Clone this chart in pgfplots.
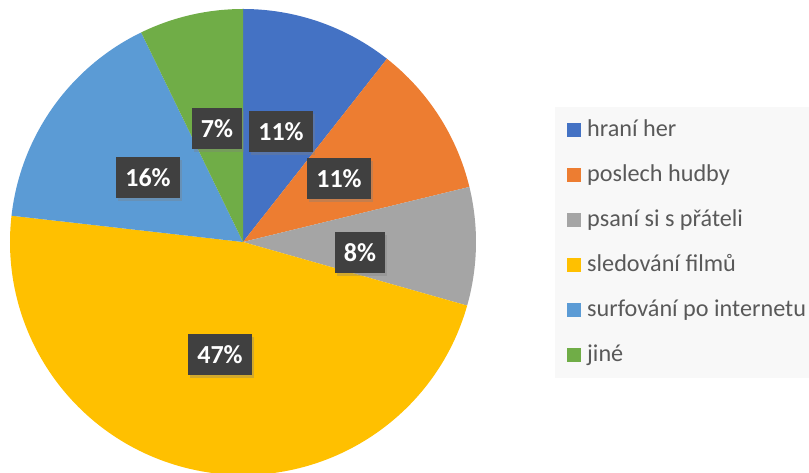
\documentclass[border=0pt]{standalone}
\usepackage{pgfplots}
\pgfplotsset{compat=1.18}
\usepackage{pgfplotstable}
\usepackage{fontspec}
\setmainfont{Carlito}
\usetikzlibrary{shadows}
\definecolor{c1}{HTML}{4472C4}
\definecolor{c2}{HTML}{ED7D31}
\definecolor{c3}{HTML}{A5A5A5}
\definecolor{c4}{HTML}{FFC000}
\definecolor{c5}{HTML}{5B9BD5}
\definecolor{c6}{HTML}{70AD47}
\definecolor{legbg}{HTML}{F8F8F8}
\definecolor{legtxt}{HTML}{595959}
\definecolor{lblbg}{HTML}{404040}
% value = share in percent; lx, ly = label position (px, y up)
\pgfplotstableread{
value col lx ly
10.6 c1 281 341
10.6 c2 339 294
8.2  c3 360 220
47.4 c4 220 118
16.0 c5 148 295
7.2  c6 217 344
}\piedata
\begin{document}
\begin{tikzpicture}
\useasboundingbox (0,0) rectangle (809pt,473pt);
\begin{axis}[
  width=809pt, height=473pt, scale only axis,
  xmin=0, xmax=809, ymin=0, ymax=473,
  hide axis, clip=false,
]
\def\cum{0}
\pgfplotsforeachungrouped \i in {0,...,5}{%
  \pgfplotstablegetelem{\i}{value}\of\piedata \let\v\pgfplotsretval
  \pgfplotstablegetelem{\i}{col}\of\piedata \let\c\pgfplotsretval
  \pgfmathsetmacro\a{90-3.6*\cum}%
  \pgfmathsetmacro\b{90-3.6*(\cum+\v)}%
  \pgfmathsetmacro\sx{243+233*cos(\a)}%
  \pgfmathsetmacro\sy{231+233*sin(\a)}%
  \edef\temp{\noexpand\fill[\c] (axis cs:243,231) -- (axis cs:\sx,\sy) arc[start angle=\a, end angle=\b, radius=233pt] -- cycle;}%
  \temp
  \pgfmathsetmacro\cum{\cum+\v}%
}
\pgfplotsforeachungrouped \i in {0,...,5}{%
  \pgfplotstablegetelem{\i}{value}\of\piedata \let\v\pgfplotsretval
  \pgfplotstablegetelem{\i}{lx}\of\piedata \let\lx\pgfplotsretval
  \pgfplotstablegetelem{\i}{ly}\of\piedata \let\ly\pgfplotsretval
  \pgfmathtruncatemacro\p{round(\v)}%
  \edef\temp{\noexpand\node[fill=lblbg, text=white, font=\noexpand\fontsize{26}{30}\noexpand\selectfont\noexpand\bfseries, inner xsep=9pt, minimum height=41pt, drop shadow={opacity=0.35, shadow xshift=2pt, shadow yshift=-3pt}] at (axis cs:\lx,\ly) {\p\noexpand\%};}%
  \temp
}
% legend
\fill[legbg] (axis cs:555,95) rectangle (axis cs:809,366);
\fill[c1] (axis cs:567,336) rectangle (axis cs:581,350);
\fill[c2] (axis cs:567,291) rectangle (axis cs:581,305);
\fill[c3] (axis cs:567,246) rectangle (axis cs:581,260);
\fill[c4] (axis cs:567,201) rectangle (axis cs:581,215);
\fill[c5] (axis cs:567,156) rectangle (axis cs:581,170);
\fill[c6] (axis cs:567,111) rectangle (axis cs:581,125);
\begin{scope}[every node/.style={anchor=base west, inner sep=0pt, text=legtxt, font=\fontsize{24.2}{28}\selectfont}]
\node at (axis cs:587,336) {hraní her};
\node at (axis cs:587,291) {poslech hudby};
\node at (axis cs:587,246) {psaní si s přáteli};
\node at (axis cs:587,201) {sledování filmů};
\node at (axis cs:587,156) {surfování po internetu};
\node at (axis cs:587,111) {jiné};
\end{scope}
\end{axis}
\end{tikzpicture}
\end{document}
